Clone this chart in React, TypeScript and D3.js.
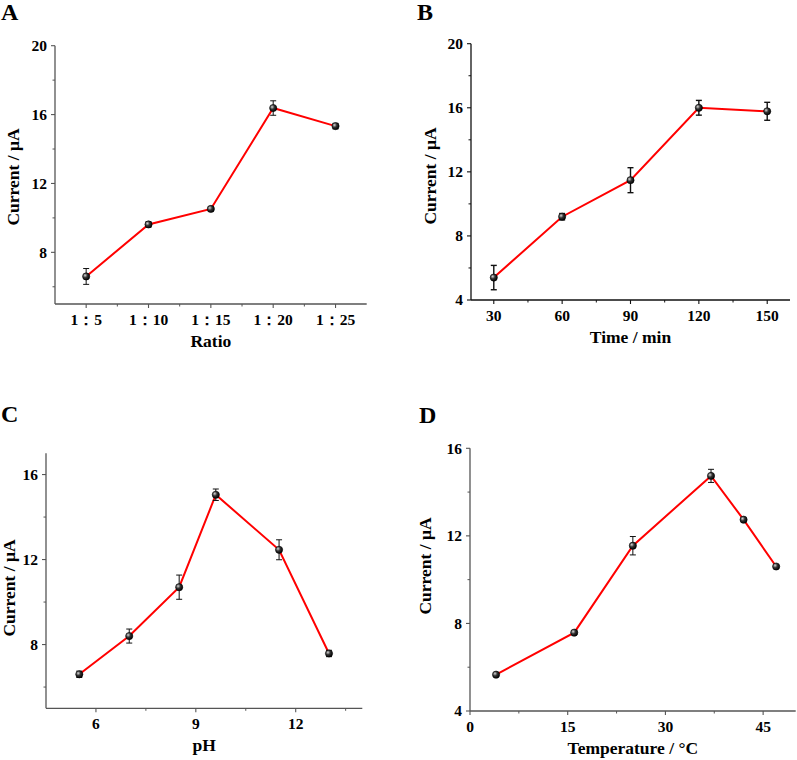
import React from "react";
import * as d3 from "d3";

// Panel A: ratio
const ratioX = [5, 10, 15, 20, 25];
const ratioLabels = ["1：5", "1：10", "1：15", "1：20", "1：25"];
const ratioY = [6.6, 9.62, 10.52, 16.38, 15.33];
const ratioErr = [0.46, 0.15, 0.12, 0.42, 0.16];

// Panel B: time
const timeX = [30, 60, 90, 120, 150];
const timeY = [5.4, 9.2, 11.48, 16.0, 15.78];
const timeErr = [0.76, 0.2, 0.78, 0.46, 0.56];

// Panel C: pH
const phX = [5.5, 7, 8.5, 9.6, 11.5, 13];
const phY = [6.6, 8.4, 10.7, 15.05, 12.46, 7.58];
const phErr = [0.15, 0.33, 0.57, 0.27, 0.47, 0.15];

// Panel D: temperature
const tempX = [4, 16, 25, 37, 42, 47];
const tempY = [5.66, 7.58, 11.55, 14.74, 12.74, 10.6];
const tempErr = [0.05, 0.08, 0.42, 0.3, 0.05, 0.05];

const FONT = "'Times New Roman', 'Liberation Serif', serif";

interface PanelProps {
  letter: string;
  letterPos: [number, number];
  box: { left: number; right: number; top: number; bottom: number };
  xDomain: [number, number];
  yDomain: [number, number];
  xTicks: number[];
  xTickLabels?: string[];
  xMinor: number[];
  yTicks: number[];
  yMinor: number[];
  xs: number[];
  ys: number[];
  errs: number[];
  xTitle: string;
  yTitlePos: [number, number];
  axisColor: string;
  errWidth: number;
}

const Panel = (p: PanelProps) => {
  const x = d3.scaleLinear().domain(p.xDomain).range([p.box.left, p.box.right]);
  const y = d3.scaleLinear().domain(p.yDomain).range([p.box.bottom, p.box.top]);
  const pts = p.xs.map((v, i) => ({ x: v, y: p.ys[i], e: p.errs[i] }));
  const line = d3.line<{ x: number; y: number }>().x(d => x(d.x)).y(d => y(d.y));
  const gid = `grad${p.letter}`;

  return (
    <g>
      <defs>
        <radialGradient id={gid} cx="35%" cy="35%" r="70%">
          <stop offset="0%" stopColor="#d8d8d8" />
          <stop offset="45%" stopColor="#333" />
          <stop offset="100%" stopColor="#000" />
        </radialGradient>
      </defs>
      <text x={p.letterPos[0]} y={p.letterPos[1]} fontFamily={FONT} fontWeight="bold" fontSize={24}>
        {p.letter}
      </text>

      {/* axes */}
      <line x1={p.box.left} x2={p.box.right} y1={p.box.bottom} y2={p.box.bottom} stroke={p.axisColor} strokeWidth={1.3} />
      <line x1={p.box.left} x2={p.box.left} y1={p.box.top} y2={p.box.bottom} stroke={p.axisColor} strokeWidth={1.3} />

      {p.xTicks.map((t, i) => (
        <g key={`xt${i}`}>
          <line x1={x(t)} x2={x(t)} y1={p.box.bottom} y2={p.box.bottom + 4} stroke={p.axisColor} strokeWidth={1.1} />
          <text x={x(t)} y={p.box.bottom + 21} textAnchor="middle" fontFamily={FONT} fontWeight="bold" fontSize={15.5}>
            {p.xTickLabels ? p.xTickLabels[i] : t}
          </text>
        </g>
      ))}
      {p.xMinor.map((t, i) => (
        <line key={`xm${i}`} x1={x(t)} x2={x(t)} y1={p.box.bottom} y2={p.box.bottom + 2.5} stroke={p.axisColor} strokeWidth={1} />
      ))}
      {p.yTicks.map((t, i) => (
        <g key={`yt${i}`}>
          <line x1={p.box.left - 4} x2={p.box.left} y1={y(t)} y2={y(t)} stroke={p.axisColor} strokeWidth={1.1} />
          <text x={p.box.left - 8} y={y(t)} dy="0.35em" textAnchor="end" fontFamily={FONT} fontWeight="bold" fontSize={15.5}>
            {t}
          </text>
        </g>
      ))}
      {p.yMinor.map((t, i) => (
        <line key={`ym${i}`} x1={p.box.left - 2.5} x2={p.box.left} y1={y(t)} y2={y(t)} stroke={p.axisColor} strokeWidth={1} />
      ))}

      {/* titles */}
      <text x={(p.box.left + p.box.right) / 2} y={p.box.bottom + 43} textAnchor="middle" fontFamily={FONT} fontWeight="bold" fontSize={17.5}>
        {p.xTitle}
      </text>
      <text
        transform={`translate(${p.yTitlePos[0]},${p.yTitlePos[1]}) rotate(-90)`}
        dy="0.35em"
        textAnchor="middle"
        fontFamily={FONT}
        fontWeight="bold"
        fontSize={17.5}
      >
        Current / μA
      </text>

      {/* data */}
      <path d={line(pts) || ""} fill="none" stroke="#ff0000" strokeWidth={2} />
      {pts.map((d, i) => (
        <g key={`e${i}`} stroke="#111" strokeWidth={p.errWidth}>
          <line x1={x(d.x)} x2={x(d.x)} y1={y(d.y - d.e)} y2={y(d.y + d.e)} />
          <line x1={x(d.x) - 3} x2={x(d.x) + 3} y1={y(d.y - d.e)} y2={y(d.y - d.e)} />
          <line x1={x(d.x) - 3} x2={x(d.x) + 3} y1={y(d.y + d.e)} y2={y(d.y + d.e)} />
        </g>
      ))}
      {pts.map((d, i) => (
        <circle key={`c${i}`} cx={x(d.x)} cy={y(d.y)} r={3.6} fill={`url(#${gid})`} stroke="#000" strokeWidth={0.6} />
      ))}
    </g>
  );
};

export default function App() {
  return (
    <div style={{ position: "absolute", left: 0, top: 0 }}>
      <svg width={797} height={760} style={{ display: "block", background: "#fff" }}>
        <Panel
          letter="A"
          letterPos={[1, 20]}
          box={{ left: 55, right: 366.7, top: 45.7, bottom: 304 }}
          xDomain={[2.5, 27.5]}
          yDomain={[5, 20]}
          xTicks={ratioX}
          xTickLabels={ratioLabels}
          xMinor={[7.5, 12.5, 17.5, 22.5]}
          yTicks={[8, 12, 16, 20]}
          yMinor={[6, 10, 14, 18]}
          xs={ratioX}
          ys={ratioY}
          errs={ratioErr}
          xTitle="Ratio"
          yTitlePos={[12.5, 177]}
          axisColor="#555"
          errWidth={1}
        />
        <Panel
          letter="B"
          letterPos={[417, 20]}
          box={{ left: 471, right: 790, top: 43.7, bottom: 300 }}
          xDomain={[20, 160]}
          yDomain={[4, 20]}
          xTicks={timeX}
          xMinor={[45, 75, 105, 135]}
          yTicks={[4, 8, 12, 16, 20]}
          yMinor={[6, 10, 14, 18]}
          xs={timeX}
          ys={timeY}
          errs={timeErr}
          xTitle="Time / min"
          yTitlePos={[430, 176]}
          axisColor="#111"
          errWidth={1.4}
        />
        <Panel
          letter="C"
          letterPos={[1, 421.7]}
          box={{ left: 46, right: 362.3, top: 453.3, bottom: 708.3 }}
          xDomain={[4.5, 14]}
          yDomain={[5, 17]}
          xTicks={[6, 9, 12]}
          xMinor={[7.5, 10.5, 13.5]}
          yTicks={[8, 12, 16]}
          yMinor={[6, 10, 14]}
          xs={phX}
          ys={phY}
          errs={phErr}
          xTitle="pH"
          yTitlePos={[9, 588]}
          axisColor="#555"
          errWidth={1}
        />
        <Panel
          letter="D"
          letterPos={[419, 422.7]}
          box={{ left: 470, right: 795.7, top: 448.3, bottom: 711 }}
          xDomain={[0, 50]}
          yDomain={[4, 16]}
          xTicks={[0, 15, 30, 45]}
          xMinor={[7.5, 22.5, 37.5]}
          yTicks={[4, 8, 12, 16]}
          yMinor={[6, 10, 14]}
          xs={tempX}
          ys={tempY}
          errs={tempErr}
          xTitle="Temperature / °C"
          yTitlePos={[425, 566]}
          axisColor="#555"
          errWidth={1}
        />
      </svg>
    </div>
  );
}
